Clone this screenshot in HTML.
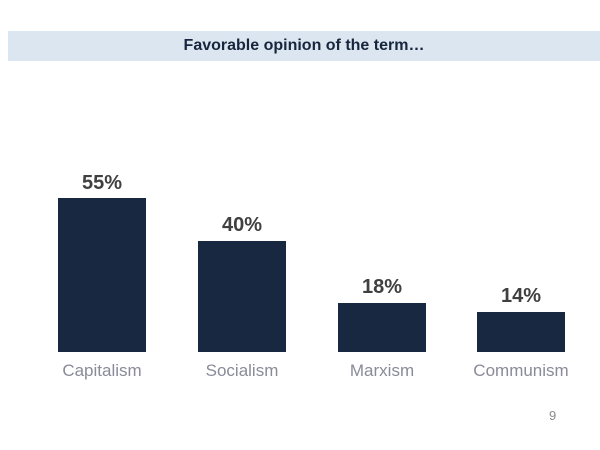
<!DOCTYPE html>
<html><head><style>
body{margin:0;width:600px;height:450px;background:#fff;position:relative;font-family:"Liberation Sans",Arial,sans-serif;overflow:hidden}
.hdr{position:absolute;left:8px;top:31px;width:592px;height:30px;background:#dce6f1;text-align:center;line-height:30px;font-weight:bold;font-size:16px;color:#17263d}
.bar{position:absolute;background:#172840;width:88px;bottom:98px}
.v{position:absolute;width:88px;text-align:center;font-weight:bold;font-size:20px;color:#404040}
.l{position:absolute;width:140px;text-align:center;font-size:17px;color:#8a8a99;top:361px}
</style></head><body>
<div class="hdr">Favorable opinion of the term…</div>
<div class="bar" style="left:58px;top:198px"></div>
<div class="bar" style="left:198px;top:241px"></div>
<div class="bar" style="left:338px;top:303px"></div>
<div class="bar" style="left:477px;top:312px"></div>
<div class="v" style="left:58px;top:172px">55%</div>
<div class="v" style="left:198px;top:214px">40%</div>
<div class="v" style="left:338px;top:276px">18%</div>
<div class="v" style="left:477px;top:285px">14%</div>
<div class="l" style="left:32px">Capitalism</div>
<div class="l" style="left:172px">Socialism</div>
<div class="l" style="left:312px">Marxism</div>
<div class="l" style="left:451px">Communism</div>
<div style="position:absolute;left:549px;top:408px;font-size:13px;color:#8a8a8a">9</div>
</body></html>
